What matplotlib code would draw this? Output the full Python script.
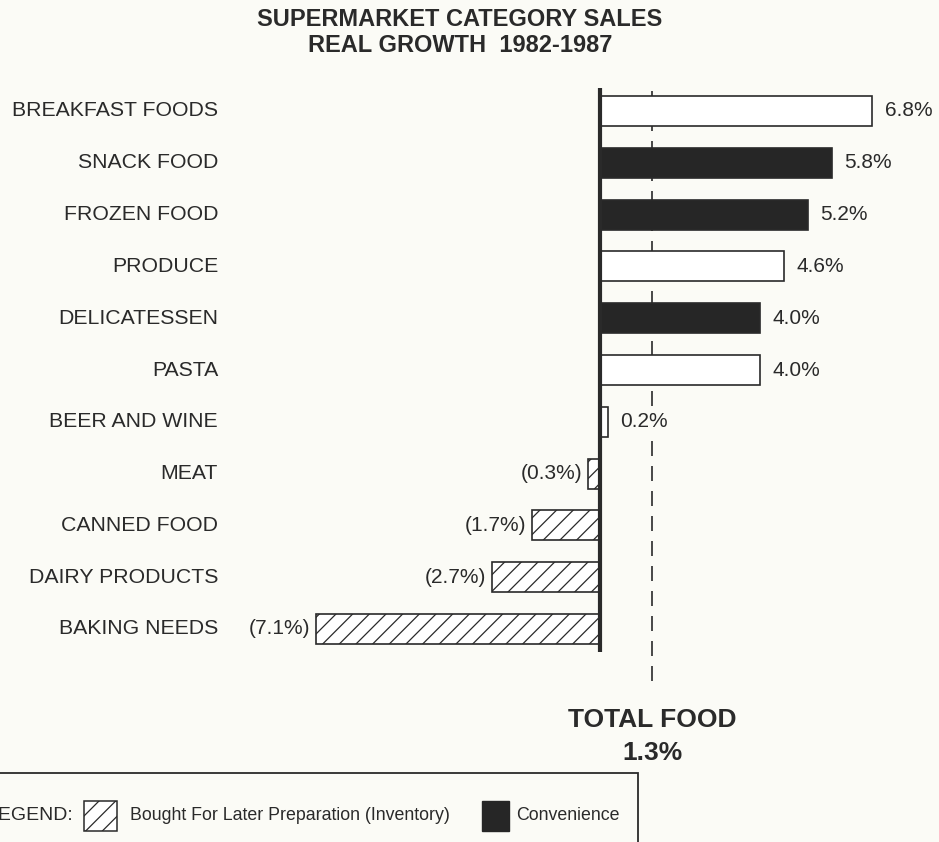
import matplotlib
matplotlib.use("Agg")
import matplotlib.pyplot as plt
from matplotlib.patches import Rectangle

# data
categories = ["BREAKFAST FOODS", "SNACK FOOD", "FROZEN FOOD", "PRODUCE",
              "DELICATESSEN", "PASTA", "BEER AND WINE", "MEAT",
              "CANNED FOOD", "DAIRY PRODUCTS", "BAKING NEEDS"]
growth = [6.8, 5.8, 5.2, 4.6, 4.0, 4.0, 0.2, -0.3, -1.7, -2.7, -7.1]
kind = ["other", "convenience", "convenience", "other", "convenience",
        "other", "other", "inventory", "inventory", "inventory", "inventory"]
total_food = 1.3

BG = "#fbfbf6"
INK = "#2a2a2a"
W, H = 939, 842

plt.rcParams["font.family"] = ["Liberation Sans", "DejaVu Sans"]
plt.rcParams["hatch.linewidth"] = 0.9

fig = plt.figure(figsize=(W / 100, H / 100), dpi=100, facecolor=BG)
ax = fig.add_axes([0, 0, 1, 1])
ax.set_facecolor(BG)
ax.axis("off")

# pixel layout: zero at x=600, ~40 px per percent; rows 51.8 px apart from y=111
ax.set_xlim(-600 / 40, (W - 600) / 40)
ax.set_ylim((H - 111) / 51.8, -111 / 51.8)

def fpx(x, y):
    return x / W, 1 - y / H

styles = {
    "other": dict(facecolor="white", hatch=None),
    "convenience": dict(facecolor="#262626", hatch=None),
    "inventory": dict(facecolor="white", hatch="//"),
}
label_box = dict(boxstyle="square,pad=0.1", facecolor=BG, edgecolor="none")

for i, (cat, v, k) in enumerate(zip(categories, growth, kind)):
    ax.barh(i, v, height=0.58, edgecolor=INK, linewidth=1.2, zorder=2, **styles[k])
    ax.text(-9.55, i, cat, ha="right", va="center", fontsize=15.3, color=INK)
    if v >= 0:
        ax.annotate(f"{v:.1f}%", (v, i), xytext=(9, 0), textcoords="offset points",
                    ha="left", va="center", fontsize=15, color=INK,
                    bbox=label_box, zorder=4)
    else:
        ax.annotate(f"({abs(v):.1f}%)", (v, i), xytext=(-4, 0), textcoords="offset points",
                    ha="right", va="center", fontsize=15, color=INK,
                    bbox=label_box, zorder=4)

# zero axis
ax.plot([0, 0], [-0.44, 10.44], color=INK, lw=3, zorder=3, solid_capstyle="butt")

# total food reference line
ax.plot([total_food, total_food], [-0.38, 11.2], color=INK, lw=1.2,
        dashes=(9, 6), zorder=1)
ax.text(total_food, (720 - 111) / 51.8, "TOTAL FOOD", ha="center", va="center",
        fontsize=19, fontweight="bold", color=INK)
ax.text(total_food, (753 - 111) / 51.8, f"{total_food:.1f}%", ha="center", va="center",
        fontsize=19, fontweight="bold", color=INK)

# title
fig.text(*fpx(460, 19), "SUPERMARKET CATEGORY SALES", ha="center", va="center",
         fontsize=17, fontweight="bold", color=INK)
fig.text(*fpx(460, 45), "REAL GROWTH  1982-1987", ha="center", va="center",
         fontsize=17, fontweight="bold", color=INK)

# legend box (runs off the left and bottom edges)
x0, y0 = fpx(-20, 860)
x1, y1 = fpx(638, 773)
fig.patches.append(Rectangle((x0, y0), x1 - x0, y1 - y0, transform=fig.transFigure,
                             facecolor="none", edgecolor=INK, lw=1.3))
fig.text(*fpx(73, 816), "LEGEND:", ha="right", va="center", fontsize=14, color=INK)
sx, sy = fpx(84, 831)
sw, sh = 33 / W, 30 / H
fig.patches.append(Rectangle((sx, sy), sw, sh, transform=fig.transFigure,
                             facecolor="white", edgecolor=INK, lw=1.1, hatch="//"))
fig.text(*fpx(130, 816), "Bought For Later Preparation (Inventory)", ha="left",
         va="center", fontsize=12.8, color=INK)
cx, cy = fpx(482, 831)
fig.patches.append(Rectangle((cx, cy), 27 / W, sh, transform=fig.transFigure,
                             facecolor="#262626", edgecolor="#262626", lw=1))
fig.text(*fpx(516, 816), "Convenience", ha="left", va="center", fontsize=12.8, color=INK)

fig.savefig("out.png", dpi=100, facecolor=BG)
